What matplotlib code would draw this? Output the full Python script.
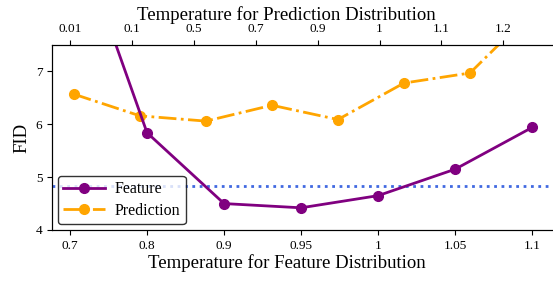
import numpy as np
import matplotlib
matplotlib.use("Agg")
import matplotlib.pyplot as plt

plt.rcParams['font.family'] = ['Liberation Serif', 'DejaVu Serif']

feat_labels = ['0.7', '0.8', '0.9', '0.95', '1', '1.05', '1.1']
feat_fid = [9.95, 5.84, 4.50, 4.42, 4.65, 5.15, 5.94]
pred_labels = ['0.01', '0.1', '0.5', '0.7', '0.9', '1', '1.1', '1.2']
pred_fid = [6.57, 6.16, 6.06, 6.36, 6.09, 6.78, 6.97, 8.2]
baseline = 4.84

fig = plt.figure(figsize=(5.53, 2.82), dpi=100)
ax = fig.add_axes([52/553, 1-230/282, 504/553, 185/282])

xf = np.arange(len(feat_fid))
xp = np.linspace(0.05, len(feat_fid) - 1 + 0.05, len(pred_fid))

ax.axhline(baseline, color='royalblue', linestyle=':', linewidth=2, zorder=1)
ax.plot(xf, feat_fid, color='purple', marker='o', markersize=7, linewidth=2, label='Feature', zorder=3)
ax.plot(xp, pred_fid, color='orange', marker='o', markersize=7, linewidth=2,
        linestyle='-.', label='Prediction', zorder=2)

ax.set_xlim(-0.234, 6.31)
ax.set_ylim(4, 7.5)
ax.set_xticks(xf)
ax.set_xticklabels(feat_labels)
ax.set_yticks([4, 5, 6, 7])
ax.tick_params(axis='both', labelsize=9.5)
ax.set_xlabel('Temperature for Feature Distribution', fontsize=13.5, labelpad=2)
ax.xaxis.label.set_x(0.466)
ax.set_ylabel('FID', fontsize=13.5)

ax2 = ax.twiny()
ax2.set_xlim(-0.29, 7.85)
ax2.set_xticks(np.arange(len(pred_labels)))
ax2.set_xticklabels(pred_labels)
ax2.tick_params(axis='x', labelsize=9.5)
ax2.set_xlabel('Temperature for Prediction Distribution', fontsize=13.5, labelpad=2)
ax2.xaxis.label.set_x(0.466)

leg = ax.legend(loc='lower left', fontsize=11.5, framealpha=0.8, edgecolor='black',
                borderaxespad=0.35, handlelength=2.6, handletextpad=0.6,
                borderpad=0.35, labelspacing=0.35)
leg.get_frame().set_linewidth(1.0)

fig.savefig('out.png', dpi=100)
